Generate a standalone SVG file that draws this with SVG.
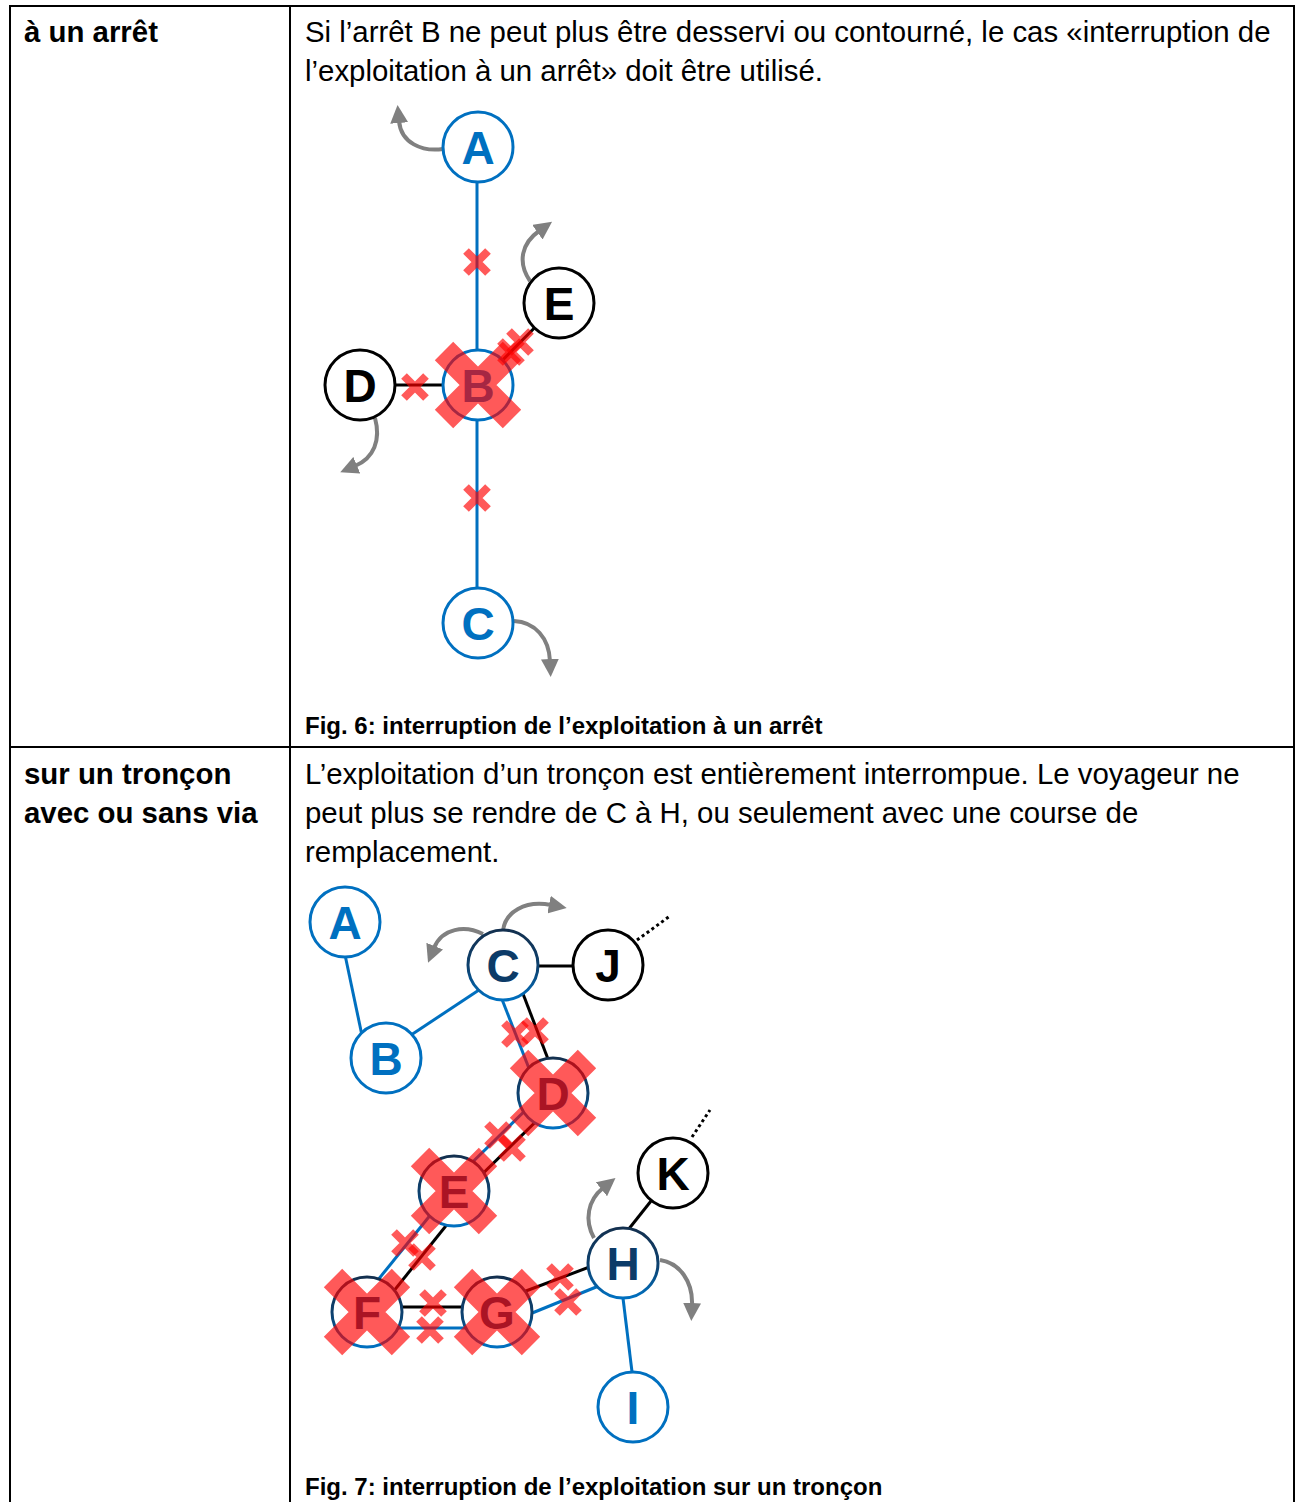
<svg xmlns="http://www.w3.org/2000/svg" width="1297" height="1502" viewBox="0 0 1297 1502">
<style>
.tbl{stroke:#000;stroke-width:2;fill:none}
.txt{font-family:"Liberation Sans",Arial,sans-serif;font-size:29.4px;fill:#000}
.hdr{font-family:"Liberation Sans",Arial,sans-serif;font-size:29.4px;font-weight:bold;fill:#000}
.cap{font-family:"Liberation Sans",Arial,sans-serif;font-size:24px;font-weight:bold;fill:#000}
.lbl{font-family:"Liberation Sans",Arial,sans-serif;font-size:46px;font-weight:bold;text-anchor:middle}
.nb{fill:#fff;stroke:#0070c0;stroke-width:3}
.nk{fill:#fff;stroke:#000;stroke-width:3}
.nm{fill:#fff;stroke:url(#mix);stroke-width:3}
.lb{fill:#0070c0}
.lk{fill:#000}
.lm{fill:#0c3b68}
.eb{stroke:#0070c0;stroke-width:3;fill:none}
.ek{stroke:#000;stroke-width:3;fill:none}
.ed{stroke:#000;stroke-width:3;fill:none;stroke-dasharray:3 3}
.arr{stroke:#808080;stroke-width:4;fill:none;marker-end:url(#ah)}
.bx{stroke:#ff0000;stroke-opacity:0.65;stroke-width:26;fill:none}
.sx{stroke:#ff0000;stroke-opacity:0.65;stroke-width:8;fill:none}
</style>
<defs>
<linearGradient id="mix" x1="0" y1="0" x2="0" y2="1">
<stop offset="0" stop-color="#13304f"/>
<stop offset="0.55" stop-color="#0d4270"/>
<stop offset="1" stop-color="#0070c0"/>
</linearGradient>
<marker id="ah" viewBox="0 0 18 18" refX="2" refY="9" markerWidth="18" markerHeight="18" markerUnits="userSpaceOnUse" orient="auto">
<path d="M0,0 L18,9 L0,18 z" fill="#808080"/>
</marker>
<path id="bigx" d="M-34,-34 L34,34 M-34,34 L34,-34"/>
<path id="smx" d="M-11,-11 L11,11 M-11,11 L11,-11"/>
</defs>
<rect width="1297" height="1502" fill="#fff"/>

<g id="table">
<path class="tbl" d="M10,1502 V6 H1294 V1502 M290,6 V1502 M10,747 H1294"/>
</g>

<g id="texts">
<text class="hdr" x="24" y="42">à un arrêt</text>
<text class="txt" x="305" y="42">Si l’arrêt B ne peut plus être desservi ou contourné, le cas «interruption de</text>
<text class="txt" x="305" y="81">l’exploitation à un arrêt» doit être utilisé.</text>
<text class="cap" x="305" y="734">Fig. 6: interruption de l’exploitation à un arrêt</text>
<text class="hdr" x="24" y="784">sur un tronçon</text>
<text class="hdr" x="24" y="823">avec ou sans via</text>
<text class="txt" x="305" y="784">L’exploitation d’un tronçon est entièrement interrompue. Le voyageur ne</text>
<text class="txt" x="305" y="823">peut plus se rendre de C à H, ou seulement avec une course de</text>
<text class="txt" x="305" y="862">remplacement.</text>
<text class="cap" x="305" y="1495">Fig. 7: interruption de l’exploitation sur un tronçon</text>
</g>

<g id="connectors">
<!-- Fig 6 -->
<path class="eb" d="M477,147 V623"/>
<path class="ek" d="M360,385 H478"/>
<path class="ek" d="M478,385 L559,303"/>
<path class="arr" d="M443,149 C422,152 401,143 399,121"/>
<path class="arr" d="M530,281 C517,262 522,243 539,231"/>
<path class="arr" d="M375,418 C381,440 374,458 355,466"/>
<path class="arr" d="M514,621 C535,622 549,638 550,661"/>
<!-- Fig 7 -->
<path class="eb" d="M344,950 L364,1045"/>
<path class="eb" d="M405,1039 L485,986"/>
<path class="ek" d="M530,966 H580"/>
<path class="ed" d="M637,940 L670,916"/>
<path class="eb" d="M489,966 L539,1094"/>
<path class="ek" d="M512,965 L561,1093"/>
<path class="eb" d="M543,1093 L444,1190"/>
<path class="ek" d="M565,1093 L466,1190"/>
<path class="eb" d="M449,1192 L352,1312"/>
<path class="ek" d="M473,1192 L377,1312"/>
<path class="ek" d="M390,1307 H475"/>
<path class="eb" d="M385,1328 H480"/>
<path class="ek" d="M510,1297 L600,1263"/>
<path class="eb" d="M515,1320 L606,1283"/>
<path class="ek" d="M624,1235 L655,1196"/>
<path class="ed" d="M692,1137 L710,1110"/>
<path class="eb" d="M622,1290 L633,1380"/>
<path class="arr" d="M503,931 C505,912 525,900 551,905"/>
<path class="arr" d="M483,934 C465,925 442,928 434,948"/>
<path class="arr" d="M594,1238 C584,1220 588,1200 603,1188"/>
<path class="arr" d="M660,1260 C680,1263 693,1282 692,1305"/>
</g>

<g id="fig6-node-A"><circle class="nb" cx="478" cy="147" r="35"/><text class="lbl lb" x="478" y="164">A</text></g>
<g id="fig6-node-B"><circle class="nb" cx="478" cy="385" r="35"/><text class="lbl lb" x="478" y="402">B</text></g>
<g id="fig6-node-C"><circle class="nb" cx="478" cy="623" r="35"/><text class="lbl lb" x="478" y="640">C</text></g>
<g id="fig6-node-D"><circle class="nk" cx="360" cy="385" r="35"/><text class="lbl lk" x="360" y="402">D</text></g>
<g id="fig6-node-E"><circle class="nk" cx="559" cy="303" r="35"/><text class="lbl lk" x="559" y="320">E</text></g>

<g id="fig7-node-A"><circle class="nb" cx="345" cy="922" r="35"/><text class="lbl lb" x="345" y="939">A</text></g>
<g id="fig7-node-B"><circle class="nb" cx="386" cy="1058" r="35"/><text class="lbl lb" x="386" y="1075">B</text></g>
<g id="fig7-node-C"><circle class="nm" cx="503" cy="965" r="35"/><text class="lbl lm" x="503" y="982">C</text></g>
<g id="fig7-node-J"><circle class="nk" cx="608" cy="965" r="35"/><text class="lbl lk" x="608" y="982">J</text></g>
<g id="fig7-node-D"><circle class="nm" cx="553" cy="1093" r="35"/><text class="lbl lm" x="553" y="1110">D</text></g>
<g id="fig7-node-E"><circle class="nm" cx="454" cy="1191" r="35"/><text class="lbl lm" x="454" y="1208">E</text></g>
<g id="fig7-node-F"><circle class="nm" cx="367" cy="1312" r="35"/><text class="lbl lm" x="367" y="1329">F</text></g>
<g id="fig7-node-G"><circle class="nm" cx="497" cy="1312" r="35"/><text class="lbl lm" x="497" y="1329">G</text></g>
<g id="fig7-node-H"><circle class="nm" cx="623" cy="1263" r="35"/><text class="lbl lm" x="623" y="1280">H</text></g>
<g id="fig7-node-K"><circle class="nk" cx="673" cy="1173" r="35"/><text class="lbl lk" x="673" y="1190">K</text></g>
<g id="fig7-node-I"><circle class="nb" cx="633" cy="1407" r="35"/><text class="lbl lb" x="633" y="1424">I</text></g>

<g id="interruptions">
<use href="#bigx" class="bx" transform="translate(478,385)"/>
<use href="#smx" class="sx" transform="translate(477,262)"/>
<use href="#smx" class="sx" transform="translate(477,498)"/>
<use href="#smx" class="sx" transform="translate(415,387)"/>
<use href="#smx" class="sx" transform="translate(520,342)"/>
<use href="#smx" class="sx" transform="translate(511,352)"/>
<use href="#bigx" class="bx" transform="translate(553,1093)"/>
<use href="#bigx" class="bx" transform="translate(454,1191)"/>
<use href="#bigx" class="bx" transform="translate(367,1312)"/>
<use href="#bigx" class="bx" transform="translate(497,1312)"/>
<use href="#smx" class="sx" transform="translate(515,1034)"/>
<use href="#smx" class="sx" transform="translate(535,1031)"/>
<use href="#smx" class="sx" transform="translate(498,1135)"/>
<use href="#smx" class="sx" transform="translate(512,1148)"/>
<use href="#smx" class="sx" transform="translate(405,1243)"/>
<use href="#smx" class="sx" transform="translate(422,1257)"/>
<use href="#smx" class="sx" transform="translate(433,1303)"/>
<use href="#smx" class="sx" transform="translate(430,1330)"/>
<use href="#smx" class="sx" transform="translate(560,1277)"/>
<use href="#smx" class="sx" transform="translate(568,1302)"/>
</g>
</svg>
